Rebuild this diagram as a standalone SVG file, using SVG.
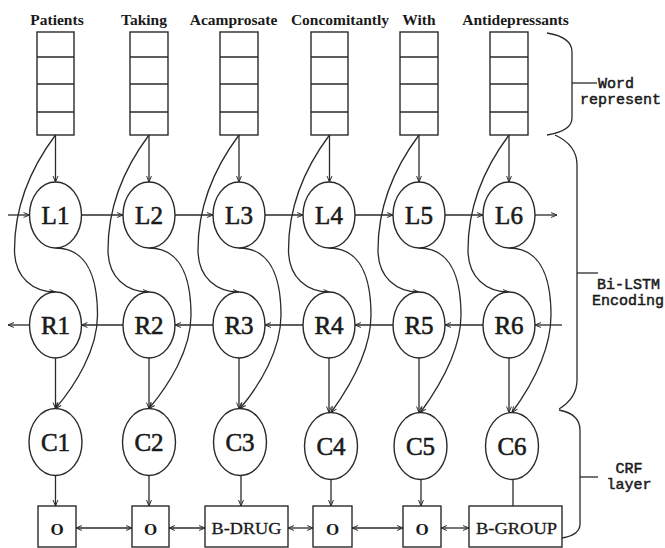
<svg xmlns="http://www.w3.org/2000/svg" width="665" height="548" viewBox="0 0 665 548">
<style>
.ln{fill:none;stroke:#2a2a2a;stroke-width:1.3}
.nd{fill:#fff;stroke:#2a2a2a;stroke-width:1.4}
.wd{font-family:"Liberation Serif",serif;font-weight:bold;font-size:15.5px;fill:#1a1a1a;text-anchor:middle}
.nl{font-family:"Liberation Serif",serif;font-size:25px;fill:#1a1a1a;stroke:#1a1a1a;stroke-width:0.6;text-anchor:middle}
.bl{font-family:"Liberation Serif",serif;font-size:17px;fill:#1a1a1a;stroke:#1a1a1a;stroke-width:0.3;text-anchor:middle}
.bo{font-family:"Liberation Serif",serif;font-weight:bold;font-size:17px;fill:#1a1a1a;text-anchor:middle}
.mn{font-family:"Liberation Mono",monospace;font-size:15px;fill:#1a1a1a;stroke:#1a1a1a;stroke-width:0.5}
.ar{marker-end:url(#ah)}
.da{marker-start:url(#ah);marker-end:url(#ah)}
</style>
<defs>
<marker id="ah" viewBox="0 0 10 10" refX="9.5" refY="5" markerWidth="7" markerHeight="7" orient="auto-start-reverse" markerUnits="userSpaceOnUse">
<path d="M1,1.5 L9.5,5 L1,8.5" fill="none" stroke="#2a2a2a" stroke-width="1.4"/>
</marker>
</defs>
<rect width="665" height="548" fill="#fff"/>

<g id="word-labels">
<text class="wd" x="57" y="25">Patients</text>
<text class="wd" x="144" y="25">Taking</text>
<text class="wd" x="233.5" y="25">Acamprosate</text>
<text class="wd" x="340" y="25">Concomitantly</text>
<text class="wd" x="419" y="25">With</text>
<text class="wd" x="515.5" y="25">Antidepressants</text>
</g>

<g id="w1"><rect class="nd" x="37" y="32" width="37" height="103"/><path class="ln" d="M37,57H74M37,84H74M37,112H74"/></g>
<g id="w2"><rect class="nd" x="130" y="32" width="38" height="103"/><path class="ln" d="M130,57H168M130,84H168M130,112H168"/></g>
<g id="w3"><rect class="nd" x="220" y="32" width="38" height="103"/><path class="ln" d="M220,57H258M220,84H258M220,112H258"/></g>
<g id="w4"><rect class="nd" x="311" y="32" width="37" height="103"/><path class="ln" d="M311,57H348M311,84H348M311,112H348"/></g>
<g id="w5"><rect class="nd" x="400" y="32" width="38" height="103"/><path class="ln" d="M400,57H438M400,84H438M400,112H438"/></g>
<g id="w6"><rect class="nd" x="490" y="32" width="38" height="103"/><path class="ln" d="M490,57H528M490,84H528M490,112H528"/></g>

<g id="connectors">
<path class="ln ar" d="M55.5,135V182"/>
<path class="ln ar" d="M149,135V182"/>
<path class="ln ar" d="M239,135V182"/>
<path class="ln ar" d="M329.5,135V182"/>
<path class="ln ar" d="M419,135V182"/>
<path class="ln ar" d="M509,135V182"/>
<path class="ln ar" d="M55.5,135 C25.5,175 14.5,215 14.5,250 C14.5,278 33.5,292 55.5,292"/>
<path class="ln ar" d="M149,135 C119,175 108,215 108,250 C108,278 127,292 149,292"/>
<path class="ln ar" d="M239,135 C209,175 198,215 198,250 C198,278 217,292 239,292"/>
<path class="ln ar" d="M329.5,135 C299.5,175 288.5,215 288.5,250 C288.5,278 307.5,292 329.5,292"/>
<path class="ln ar" d="M419,135 C389,175 378,215 378,250 C378,278 397,292 419,292"/>
<path class="ln ar" d="M509,135 C479,175 468,215 468,250 C468,278 487,292 509,292"/>
<path class="ln ar" d="M55.5,248 C85.5,248 97.5,275 97.5,315 C97.5,350 75.5,385 55.5,408.5"/>
<path class="ln ar" d="M149,248 C179,248 191,275 191,315 C191,350 169,385 149,408.5"/>
<path class="ln ar" d="M239,248 C269,248 281,275 281,315 C281,350 260,385 240,408.5"/>
<path class="ln ar" d="M329,248 C359,248 371,275 371,315 C371,350 351,385 331,412.5"/>
<path class="ln ar" d="M419,248 C449,248 461,275 461,315 C461,350 440.5,385 420.5,412.5"/>
<path class="ln ar" d="M509,248 C539,248 551,275 551,315 C551,350 532,385 512,412.5"/>
<path class="ln ar" d="M8,215H29.5"/>
<path class="ln ar" d="M81.5,215H123"/>
<path class="ln ar" d="M175,215H213"/>
<path class="ln ar" d="M265,215H303"/>
<path class="ln ar" d="M355,215H393"/>
<path class="ln ar" d="M445,215H483"/>
<path class="ln ar" d="M535,215H557"/>
<path class="ln ar" d="M29.5,325H8"/>
<path class="ln ar" d="M123,325H81.5"/>
<path class="ln ar" d="M213,325H175"/>
<path class="ln ar" d="M303,325H265"/>
<path class="ln ar" d="M393,325H355"/>
<path class="ln ar" d="M483,325H445"/>
<path class="ln ar" d="M562,325H535"/>
<path class="ln ar" d="M55.5,358V408.5"/>
<path class="ln ar" d="M149,358V408.5"/>
<path class="ln ar" d="M239,358V408.5"/>
<path class="ln ar" d="M329,358V412.5"/>
<path class="ln ar" d="M419,358V412.5"/>
<path class="ln ar" d="M509,358V412.5"/>
<path class="ln ar" d="M55.5,475.5V506"/>
<path class="ln ar" d="M149,475.5V506"/>
<path class="ln ar" d="M241,475.5V506"/>
<path class="ln ar" d="M331,479.5V506"/>
<path class="ln ar" d="M421,479.5V506"/>
<path class="ln" d="M513,479.5V506"/>
<path class="ln da" d="M76,528H132"/>
<path class="ln da" d="M169,528H205"/>
<path class="ln da" d="M288,528H313"/>
<path class="ln da" d="M352,528H403"/>
<path class="ln da" d="M441,528H469"/>
</g>

<g id="L1"><ellipse class="nd" cx="55.5" cy="215" rx="26" ry="33"/><text class="nl" x="55.5" y="224">L1</text></g>
<g id="L2"><ellipse class="nd" cx="149" cy="215" rx="26" ry="33"/><text class="nl" x="149" y="224">L2</text></g>
<g id="L3"><ellipse class="nd" cx="239" cy="215" rx="26" ry="33"/><text class="nl" x="239" y="224">L3</text></g>
<g id="L4"><ellipse class="nd" cx="329" cy="215" rx="26" ry="33"/><text class="nl" x="329" y="224">L4</text></g>
<g id="L5"><ellipse class="nd" cx="419" cy="215" rx="26" ry="33"/><text class="nl" x="419" y="224">L5</text></g>
<g id="L6"><ellipse class="nd" cx="509" cy="215" rx="26" ry="33"/><text class="nl" x="509" y="224">L6</text></g>

<g id="R1"><ellipse class="nd" cx="55.5" cy="325" rx="26" ry="33"/><text class="nl" x="55.5" y="334">R1</text></g>
<g id="R2"><ellipse class="nd" cx="149" cy="325" rx="26" ry="33"/><text class="nl" x="149" y="334">R2</text></g>
<g id="R3"><ellipse class="nd" cx="239" cy="325" rx="26" ry="33"/><text class="nl" x="239" y="334">R3</text></g>
<g id="R4"><ellipse class="nd" cx="329" cy="325" rx="26" ry="33"/><text class="nl" x="329" y="334">R4</text></g>
<g id="R5"><ellipse class="nd" cx="419" cy="325" rx="26" ry="33"/><text class="nl" x="419" y="334">R5</text></g>
<g id="R6"><ellipse class="nd" cx="509" cy="325" rx="26" ry="33"/><text class="nl" x="509" y="334">R6</text></g>

<g id="C1"><ellipse class="nd" cx="55.5" cy="442" rx="26.5" ry="33.5"/><text class="nl" x="55.5" y="451">C1</text></g>
<g id="C2"><ellipse class="nd" cx="149" cy="442" rx="26.5" ry="33.5"/><text class="nl" x="149" y="451">C2</text></g>
<g id="C3"><ellipse class="nd" cx="240" cy="442" rx="26.5" ry="33.5"/><text class="nl" x="240" y="451">C3</text></g>
<g id="C4"><ellipse class="nd" cx="331" cy="446" rx="26.5" ry="33.5"/><text class="nl" x="331" y="455">C4</text></g>
<g id="C5"><ellipse class="nd" cx="420.5" cy="446" rx="26.5" ry="33.5"/><text class="nl" x="420.5" y="455">C5</text></g>
<g id="C6"><ellipse class="nd" cx="512" cy="446" rx="26.5" ry="33.5"/><text class="nl" x="512" y="455">C6</text></g>

<g id="T1"><rect class="nd" x="38" y="506" width="38" height="41"/><text class="bo" x="57" y="535">O</text></g>
<g id="T2"><rect class="nd" x="132" y="506" width="37" height="41"/><text class="bo" x="150.5" y="535">O</text></g>
<g id="T3"><rect class="nd" x="205" y="506" width="83" height="41"/><text class="bl" x="246.5" y="534" textLength="70" lengthAdjust="spacingAndGlyphs">B-DRUG</text></g>
<g id="T4"><rect class="nd" x="313" y="506" width="39" height="41"/><text class="bo" x="332.5" y="535">O</text></g>
<g id="T5"><rect class="nd" x="403" y="506" width="38" height="41"/><text class="bo" x="422" y="535">O</text></g>
<g id="T6"><rect class="nd" x="469" y="506" width="93" height="41"/><text class="bl" x="516.5" y="534" textLength="81" lengthAdjust="spacingAndGlyphs">B-GROUP</text></g>

<g id="brace-word">
<path class="ln" d="M547,33 Q572,37 572,52 V118 Q572,131 547,135"/>
<path class="ln" d="M572,83H597"/>
<text class="mn" x="598" y="88">Word</text>
<text class="mn" x="580" y="104">represent</text>
</g>
<g id="brace-bilstm">
<path class="ln" d="M555,135 Q577,145 577,165 V380 Q577,398 559,409"/>
<path class="ln" d="M577,273H598"/>
<text class="mn" x="597" y="289">Bi-LSTM</text>
<text class="mn" x="592" y="305">Encoding</text>
</g>
<g id="brace-crf">
<path class="ln" d="M559,410 Q580,414 580,430 V524 Q580,535 562,538"/>
<path class="ln" d="M580,477H598"/>
<text class="mn" x="629" y="473" text-anchor="middle">CRF</text>
<text class="mn" x="629" y="489" text-anchor="middle">layer</text>
</g>
</svg>
